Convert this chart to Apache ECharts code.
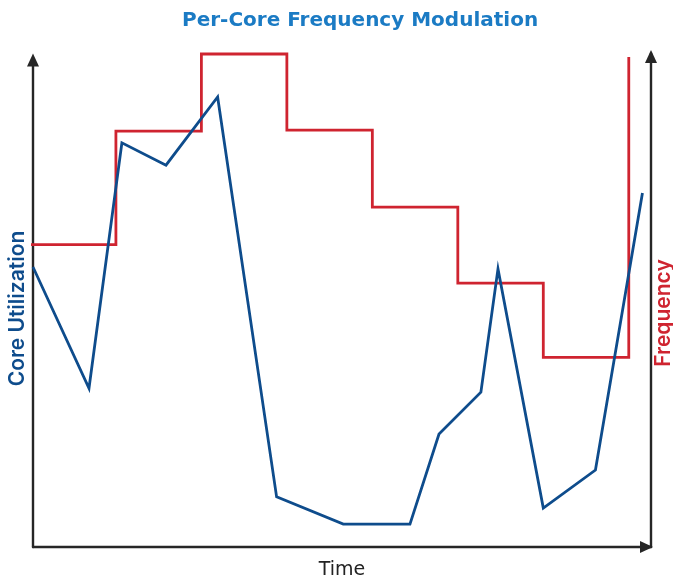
<!DOCTYPE html>
<html>
<head>
<meta charset="utf-8">
<script src="https://cdn.jsdelivr.net/npm/echarts@6/dist/echarts.min.js"></script>
<style>html,body{margin:0;padding:0;background:#fff}#c{width:673px;height:579px}</style>
</head>
<body>
<div id="c"></div>
<script>
// Time in step units (one frequency step per unit)
const utilTime = [0.03, 0.685, 1.07, 1.586, 2.19, 2.88, 3.66, 4.44, 4.78, 5.27, 5.47, 6.0, 6.61, 7.16];
const utilValues = [57.5, 32.6, 83.0, 78.4, 92.4, 10.3, 4.7, 4.7, 23.2, 31.8, 57.1, 8.0, 15.8, 72.7];
const freqTime = [0, 1, 2, 3, 4, 5, 6, 7];
const freqValues = [3.06, 4.21, 4.99, 4.22, 3.44, 2.67, 1.92, 4.96];

const titleText = 'Per-Core Frequency Modulation';
const xName = 'Time';
const yLeftName = 'Core Utilization';
const yRightName = 'Frequency';

const FONT = 'DejaVu Sans';
const FONT2 = 'Inter';
const AXIS = '#262626';
const BLUE = '#0e4c8c';
const RED = '#cf2430';

const chart = echarts.init(document.getElementById('c'), null, {renderer: 'canvas'});
const axisLineBase = (offset) => ({
  show: true, onZero: false,
  lineStyle: {color: AXIS, width: 2.4},
  symbol: ['none', 'triangle'], symbolSize: [12, 13], symbolOffset: [0, offset]
});
chart.setOption({
  animation: false,
  title: {
    text: titleText, left: 177, top: 6,
    textStyle: {fontFamily: FONT, fontSize: 20, fontWeight: 'bold', color: '#1b7bc4'}
  },
  grid: [
    {left: 33, right: 22, top: 60, bottom: 32, outerBoundsMode: 'none', containLabel: false},
    {left: 33, right: 22, top: 53, bottom: 32, outerBoundsMode: 'none', containLabel: false}
  ],
  xAxis: [
    {type: 'value', gridIndex: 0, min: 0.03, max: 7.26,
     name: xName, nameLocation: 'middle', nameGap: 14,
     nameTextStyle: {fontFamily: FONT, fontSize: 19, fontWeight: 'normal', color: '#222'},
     axisLine: axisLineBase(-4.5), axisTick: {show: false}, axisLabel: {show: false}, splitLine: {show: false}},
    {type: 'value', gridIndex: 1, min: 0.03, max: 7.26, show: false}
  ],
  yAxis: [
    {type: 'value', gridIndex: 0, min: 0, max: 100, position: 'left',
     name: yLeftName, nameLocation: 'middle', nameGap: 5, nameRotate: 90,
     nameTextStyle: {fontFamily: FONT2, fontSize: 21, fontWeight: 600, color: BLUE, padding: [0, 10, 0, 0]},
     axisLine: axisLineBase(0), axisTick: {show: false}, axisLabel: {show: false}, splitLine: {show: false}},
    {type: 'value', gridIndex: 1, min: 0, max: 5, position: 'right',
     name: yRightName, nameLocation: 'middle', nameGap: 2, nameRotate: 90,
     nameTextStyle: {fontFamily: FONT2, fontSize: 21, fontWeight: 600, color: RED, padding: [0, 26, 0, 0]},
     axisLine: axisLineBase(-3.5), axisTick: {show: false}, axisLabel: {show: false}, splitLine: {show: false}}
  ],
  series: [
    {type: 'line', name: yRightName, xAxisIndex: 1, yAxisIndex: 1, step: 'end',
     data: freqTime.map((t, i) => [t, freqValues[i]]),
     showSymbol: false, symbol: 'none', z: 2,
     lineStyle: {color: RED, width: 2.8, join: 'miter'}},
    {type: 'line', name: yLeftName, xAxisIndex: 0, yAxisIndex: 0,
     data: utilTime.map((t, i) => [t, utilValues[i]]),
     showSymbol: false, symbol: 'none', z: 3,
     lineStyle: {color: BLUE, width: 2.8, join: 'miter'}}
  ]
});
</script>
</body>
</html>
